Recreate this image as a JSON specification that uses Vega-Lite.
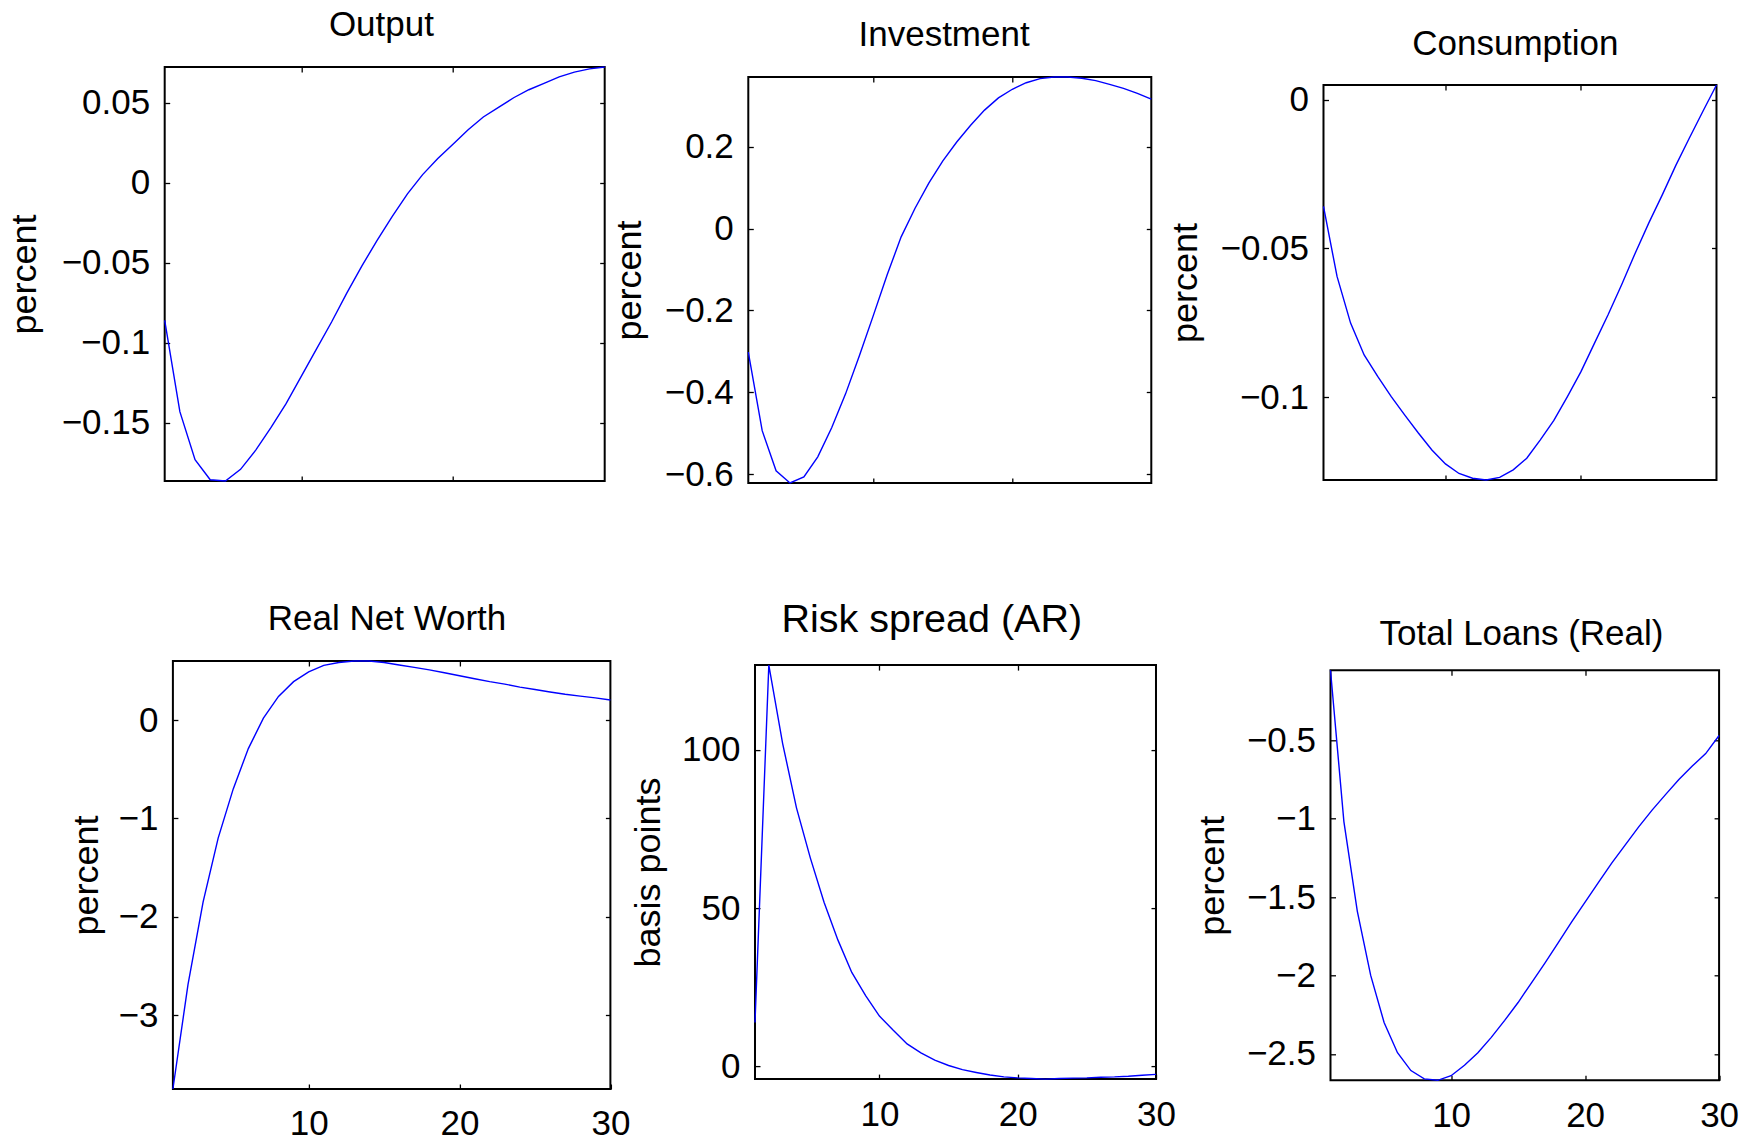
{
  "$schema": "https://vega.github.io/schema/vega-lite/v6.json",
  "background": "white",
  "padding": {"left": 5.7, "top": 0, "right": 0, "bottom": 0},
  "datasets": {
    "output": [
      {"t": 1, "v": -0.086}, {"t": 2, "v": -0.143}, {"t": 3, "v": -0.173}, {"t": 4, "v": -0.1855}, {"t": 5, "v": -0.1863},
      {"t": 6, "v": -0.179}, {"t": 7, "v": -0.167}, {"t": 8, "v": -0.153}, {"t": 9, "v": -0.138}, {"t": 10, "v": -0.121},
      {"t": 11, "v": -0.104}, {"t": 12, "v": -0.087}, {"t": 13, "v": -0.069}, {"t": 14, "v": -0.052}, {"t": 15, "v": -0.036},
      {"t": 16, "v": -0.021}, {"t": 17, "v": -0.007}, {"t": 18, "v": 0.005}, {"t": 19, "v": 0.015}, {"t": 20, "v": 0.024},
      {"t": 21, "v": 0.033}, {"t": 22, "v": 0.041}, {"t": 23, "v": 0.047}, {"t": 24, "v": 0.053}, {"t": 25, "v": 0.058},
      {"t": 26, "v": 0.062}, {"t": 27, "v": 0.066}, {"t": 28, "v": 0.069}, {"t": 29, "v": 0.071}, {"t": 30, "v": 0.0722}
    ],
    "investment": [
      {"t": 1, "v": -0.302}, {"t": 2, "v": -0.494}, {"t": 3, "v": -0.592}, {"t": 4, "v": -0.622}, {"t": 5, "v": -0.607},
      {"t": 6, "v": -0.558}, {"t": 7, "v": -0.487}, {"t": 8, "v": -0.404}, {"t": 9, "v": -0.31}, {"t": 10, "v": -0.212},
      {"t": 11, "v": -0.112}, {"t": 12, "v": -0.02}, {"t": 13, "v": 0.05}, {"t": 14, "v": 0.112}, {"t": 15, "v": 0.166},
      {"t": 16, "v": 0.212}, {"t": 17, "v": 0.253}, {"t": 18, "v": 0.29}, {"t": 19, "v": 0.32}, {"t": 20, "v": 0.341},
      {"t": 21, "v": 0.357}, {"t": 22, "v": 0.367}, {"t": 23, "v": 0.371}, {"t": 24, "v": 0.371}, {"t": 25, "v": 0.368},
      {"t": 26, "v": 0.362}, {"t": 27, "v": 0.353}, {"t": 28, "v": 0.343}, {"t": 29, "v": 0.331}, {"t": 30, "v": 0.317}
    ],
    "consumption": [
      {"t": 1, "v": -0.0359}, {"t": 2, "v": -0.0594}, {"t": 3, "v": -0.0751}, {"t": 4, "v": -0.0858}, {"t": 5, "v": -0.093},
      {"t": 6, "v": -0.0998}, {"t": 7, "v": -0.106}, {"t": 8, "v": -0.112}, {"t": 9, "v": -0.1177}, {"t": 10, "v": -0.1224},
      {"t": 11, "v": -0.1256}, {"t": 12, "v": -0.1272}, {"t": 13, "v": -0.1278}, {"t": 14, "v": -0.1269}, {"t": 15, "v": -0.1244},
      {"t": 16, "v": -0.1205}, {"t": 17, "v": -0.1143}, {"t": 18, "v": -0.1078}, {"t": 19, "v": -0.0998}, {"t": 20, "v": -0.0914},
      {"t": 21, "v": -0.0818}, {"t": 22, "v": -0.0723}, {"t": 23, "v": -0.0622}, {"t": 24, "v": -0.0516}, {"t": 25, "v": -0.0415},
      {"t": 26, "v": -0.032}, {"t": 27, "v": -0.0221}, {"t": 28, "v": -0.0129}, {"t": 29, "v": -0.0039}, {"t": 30, "v": 0.0049}
    ],
    "networth": [
      {"t": 1, "v": -3.75}, {"t": 2, "v": -2.69}, {"t": 3, "v": -1.85}, {"t": 4, "v": -1.2}, {"t": 5, "v": -0.7},
      {"t": 6, "v": -0.29}, {"t": 7, "v": 0.02}, {"t": 8, "v": 0.24}, {"t": 9, "v": 0.39}, {"t": 10, "v": 0.49},
      {"t": 11, "v": 0.555}, {"t": 12, "v": 0.585}, {"t": 13, "v": 0.6}, {"t": 14, "v": 0.6}, {"t": 15, "v": 0.585},
      {"t": 16, "v": 0.56}, {"t": 17, "v": 0.535}, {"t": 18, "v": 0.51}, {"t": 19, "v": 0.48}, {"t": 20, "v": 0.45},
      {"t": 21, "v": 0.42}, {"t": 22, "v": 0.39}, {"t": 23, "v": 0.365}, {"t": 24, "v": 0.335}, {"t": 25, "v": 0.31},
      {"t": 26, "v": 0.285}, {"t": 27, "v": 0.262}, {"t": 28, "v": 0.243}, {"t": 29, "v": 0.225}, {"t": 30, "v": 0.203}
    ],
    "spread": [
      {"t": 1, "v": 13.9}, {"t": 2, "v": 126.8}, {"t": 3, "v": 102}, {"t": 4, "v": 81.7}, {"t": 5, "v": 65.9},
      {"t": 6, "v": 51.8}, {"t": 7, "v": 39.9}, {"t": 8, "v": 29.7}, {"t": 9, "v": 22.4}, {"t": 10, "v": 15.9},
      {"t": 11, "v": 11.4}, {"t": 12, "v": 7.1}, {"t": 13, "v": 4.3}, {"t": 14, "v": 2}, {"t": 15, "v": 0.3},
      {"t": 16, "v": -1}, {"t": 17, "v": -1.9}, {"t": 18, "v": -2.7}, {"t": 19, "v": -3.3}, {"t": 20, "v": -3.6},
      {"t": 21, "v": -3.8}, {"t": 22, "v": -4}, {"t": 23, "v": -3.8}, {"t": 24, "v": -3.7}, {"t": 25, "v": -3.6},
      {"t": 26, "v": -3.4}, {"t": 27, "v": -3.3}, {"t": 28, "v": -3.1}, {"t": 29, "v": -2.8}, {"t": 30, "v": -2.5}
    ],
    "loans": [
      {"t": 1, "v": -0.054}, {"t": 2, "v": -1.019}, {"t": 3, "v": -1.59}, {"t": 4, "v": -2}, {"t": 5, "v": -2.3},
      {"t": 6, "v": -2.493}, {"t": 7, "v": -2.607}, {"t": 8, "v": -2.66}, {"t": 9, "v": -2.669}, {"t": 10, "v": -2.64},
      {"t": 11, "v": -2.573}, {"t": 12, "v": -2.493}, {"t": 13, "v": -2.395}, {"t": 14, "v": -2.287}, {"t": 15, "v": -2.173},
      {"t": 16, "v": -2.047}, {"t": 17, "v": -1.922}, {"t": 18, "v": -1.791}, {"t": 19, "v": -1.659}, {"t": 20, "v": -1.533},
      {"t": 21, "v": -1.407}, {"t": 22, "v": -1.282}, {"t": 23, "v": -1.167}, {"t": 24, "v": -1.053}, {"t": 25, "v": -0.946},
      {"t": 26, "v": -0.847}, {"t": 27, "v": -0.751}, {"t": 28, "v": -0.665}, {"t": 29, "v": -0.585}, {"t": 30, "v": -0.47}
    ]
  },
  "spacing": -21.4,
  "hconcat": [
    {
      "spacing": 0,
      "vconcat": [
        {"width": 1, "height": 6.9, "data": {"values": []}, "mark": "point", "encoding": {}, "view": {"stroke": null}},
        {
          "spacing": 116,
          "vconcat": [
            {
              "width": 440, "height": 414,
              "title": {"text": "Output", "offset": 21, "dx": -3.3},
              "data": {"name": "output"},
              "layer": [
                {"mark": {"type": "line", "color": "#0000ff", "strokeWidth": 1.4},
                 "encoding": {
                   "x": {"field": "t", "type": "quantitative", "scale": {"domain": [1, 30], "nice": false, "zero": false}, "axis": {"orient": "bottom", "values": [10, 20], "labels": false, "title": null}},
                   "y": {"field": "v", "type": "quantitative", "scale": {"domain": [-0.1863, 0.0722], "nice": false, "zero": false}, "axis": {"orient": "left", "values": [-0.15, -0.1, -0.05, 0, 0.05], "title": "percent", "titlePadding": 17.2}}
                 }},
                {"mark": {"type": "line", "opacity": 0},
                 "encoding": {
                   "x": {"field": "t", "type": "quantitative", "axis": {"orient": "top", "values": [10, 20], "labels": false, "title": null}},
                   "y": {"field": "v", "type": "quantitative", "axis": {"orient": "right", "values": [-0.15, -0.1, -0.05, 0, 0.05], "labels": false, "title": null}}
                 }}
              ],
              "resolve": {"axis": {"x": "independent", "y": "independent"}}
            },
            {
              "spacing": -98.8,
              "hconcat": [
                {"width": 1, "height": 1, "data": {"values": []}, "mark": "point", "encoding": {}, "view": {"stroke": null}},
                {
                  "width": 437.5, "height": 428,
                  "title": {"text": "Real Net Worth", "offset": 20.7, "dx": -4.6},
                  "data": {"name": "networth"},
                  "layer": [
                    {"mark": {"type": "line", "color": "#0000ff", "strokeWidth": 1.4},
                     "encoding": {
                       "x": {"field": "t", "type": "quantitative", "scale": {"domain": [1, 30], "nice": false, "zero": false}, "axis": {"orient": "bottom", "values": [10, 20, 30], "title": null}},
                       "y": {"field": "v", "type": "quantitative", "scale": {"domain": [-3.75, 0.6], "nice": false, "zero": false}, "axis": {"orient": "left", "values": [-3, -2, -1, 0], "title": "percent", "titlePadding": 12.5}}
                     }},
                    {"mark": {"type": "line", "opacity": 0},
                     "encoding": {
                       "x": {"field": "t", "type": "quantitative", "axis": {"orient": "top", "values": [10, 20], "labels": false, "title": null}},
                       "y": {"field": "v", "type": "quantitative", "axis": {"orient": "right", "values": [-3, -2, -1, 0], "labels": false, "title": null}}
                     }}
                  ],
                  "resolve": {"axis": {"x": "independent", "y": "independent"}}
                }
              ]
            }
          ]
        }
      ]
    },
    {
      "spacing": -11.8,
      "hconcat": [
        {
          "spacing": 0,
          "vconcat": [
            {"width": 1, "height": 16.9, "data": {"values": []}, "mark": "point", "encoding": {}, "view": {"stroke": null}},
            {
              "spacing": 104.1,
              "vconcat": [
                {
                  "width": 403, "height": 406,
                  "title": {"text": "Investment", "offset": 21, "dx": -5.7},
                  "data": {"name": "investment"},
                  "layer": [
                    {"mark": {"type": "line", "color": "#0000ff", "strokeWidth": 1.4},
                     "encoding": {
                       "x": {"field": "t", "type": "quantitative", "scale": {"domain": [1, 30], "nice": false, "zero": false}, "axis": {"orient": "bottom", "values": [10, 20], "labels": false, "title": null}},
                       "y": {"field": "v", "type": "quantitative", "scale": {"domain": [-0.622, 0.371], "nice": false, "zero": false}, "axis": {"orient": "left", "values": [-0.6, -0.4, -0.2, 0, 0.2], "title": "percent", "titlePadding": 15.6}}
                     }},
                    {"mark": {"type": "line", "opacity": 0},
                     "encoding": {
                       "x": {"field": "t", "type": "quantitative", "axis": {"orient": "top", "values": [10, 20], "labels": false, "title": null}},
                       "y": {"field": "v", "type": "quantitative", "axis": {"orient": "right", "values": [-0.6, -0.4, -0.2, 0, 0.2], "labels": false, "title": null}}
                     }}
                  ],
                  "resolve": {"axis": {"x": "independent", "y": "independent"}}
                },
                {
                  "spacing": -120.3,
                  "hconcat": [
                    {"width": 1, "height": 1, "data": {"values": []}, "mark": "point", "encoding": {}, "view": {"stroke": null}},
                    {
                      "width": 401, "height": 414,
                      "title": {"text": "Risk spread (AR)", "fontSize": 39.5, "offset": 22.1, "dx": -23.7},
                      "data": {"name": "spread"},
                      "layer": [
                        {"mark": {"type": "line", "color": "#0000ff", "strokeWidth": 1.4},
                         "encoding": {
                           "x": {"field": "t", "type": "quantitative", "scale": {"domain": [1, 30], "nice": false, "zero": false}, "axis": {"orient": "bottom", "values": [10, 20, 30], "title": null}},
                           "y": {"field": "v", "type": "quantitative", "scale": {"domain": [-4, 126.8], "nice": false, "zero": false}, "axis": {"orient": "left", "values": [0, 50, 100], "title": "basis points", "titlePadding": 14.4}}
                         }},
                        {"mark": {"type": "line", "opacity": 0},
                         "encoding": {
                           "x": {"field": "t", "type": "quantitative", "axis": {"orient": "top", "values": [10, 20], "labels": false, "title": null}},
                           "y": {"field": "v", "type": "quantitative", "axis": {"orient": "right", "values": [0, 50, 100], "labels": false, "title": null}}
                         }}
                      ],
                      "resolve": {"axis": {"x": "independent", "y": "independent"}}
                    }
                  ]
                }
              ]
            }
          ]
        },
        {
          "spacing": 0,
          "vconcat": [
            {"width": 1, "height": 25.8, "data": {"values": []}, "mark": "point", "encoding": {}, "view": {"stroke": null}},
            {
              "spacing": 131.3,
              "vconcat": [
                {
                  "width": 393, "height": 395,
                  "title": {"text": "Consumption", "offset": 20, "dx": -4.6},
                  "data": {"name": "consumption"},
                  "layer": [
                    {"mark": {"type": "line", "color": "#0000ff", "strokeWidth": 1.4},
                     "encoding": {
                       "x": {"field": "t", "type": "quantitative", "scale": {"domain": [1, 30], "nice": false, "zero": false}, "axis": {"orient": "bottom", "values": [10, 20], "labels": false, "title": null}},
                       "y": {"field": "v", "type": "quantitative", "scale": {"domain": [-0.1278, 0.0049], "nice": false, "zero": false}, "axis": {"orient": "left", "values": [-0.1, -0.05, 0], "title": "percent", "titlePadding": 15.6}}
                     }},
                    {"mark": {"type": "line", "opacity": 0},
                     "encoding": {
                       "x": {"field": "t", "type": "quantitative", "axis": {"orient": "top", "values": [10, 20], "labels": false, "title": null}},
                       "y": {"field": "v", "type": "quantitative", "axis": {"orient": "right", "values": [-0.1, -0.05, 0], "labels": false, "title": null}}
                     }}
                  ],
                  "resolve": {"axis": {"x": "independent", "y": "independent"}}
                },
                {
                  "spacing": -132,
                  "hconcat": [
                    {"width": 1, "height": 1, "data": {"values": []}, "mark": "point", "encoding": {}, "view": {"stroke": null}},
                    {
                      "width": 388.6, "height": 410,
                      "title": {"text": "Total Loans (Real)", "offset": 15.7, "dx": -3.3},
                      "data": {"name": "loans"},
                      "layer": [
                        {"mark": {"type": "line", "color": "#0000ff", "strokeWidth": 1.4},
                         "encoding": {
                           "x": {"field": "t", "type": "quantitative", "scale": {"domain": [1, 30], "nice": false, "zero": false}, "axis": {"orient": "bottom", "values": [10, 20, 30], "title": null}},
                           "y": {"field": "v", "type": "quantitative", "scale": {"domain": [-2.669, -0.054], "nice": false, "zero": false}, "axis": {"orient": "left", "values": [-2.5, -2, -1.5, -1, -0.5], "title": "percent", "titlePadding": 15}}
                         }},
                        {"mark": {"type": "line", "opacity": 0},
                         "encoding": {
                           "x": {"field": "t", "type": "quantitative", "axis": {"orient": "top", "values": [10, 20], "labels": false, "title": null}},
                           "y": {"field": "v", "type": "quantitative", "axis": {"orient": "right", "values": [-2.5, -2, -1.5, -1, -0.5], "labels": false, "title": null}}
                         }}
                      ],
                      "resolve": {"axis": {"x": "independent", "y": "independent"}}
                    }
                  ]
                }
              ]
            }
          ]
        }
      ]
    }
  ],
  "config": {
    "font": "Liberation Sans",
    "view": {"stroke": "black", "strokeWidth": 2},
    "axis": {
      "domain": false, "grid": false, "ticks": true,
      "tickColor": "black", "tickWidth": 1.3, "tickSize": -5,
      "labelFont": "Liberation Sans", "labelFontSize": 35, "labelColor": "black", "labelPadding": 20,
      "labelFlush": false, "labelOverlap": false,
      "labelExpr": "replace('' + datum.value, '-', '\u2212')",
      "titleFont": "Liberation Sans", "titleFontSize": 36, "titleFontWeight": "normal", "titleColor": "black"
    },
    "axisBottom": {"labelPadding": 23},
    "title": {"font": "Liberation Sans", "fontSize": 35, "fontWeight": "normal", "color": "black", "anchor": "middle", "frame": "group"}
  }
}
